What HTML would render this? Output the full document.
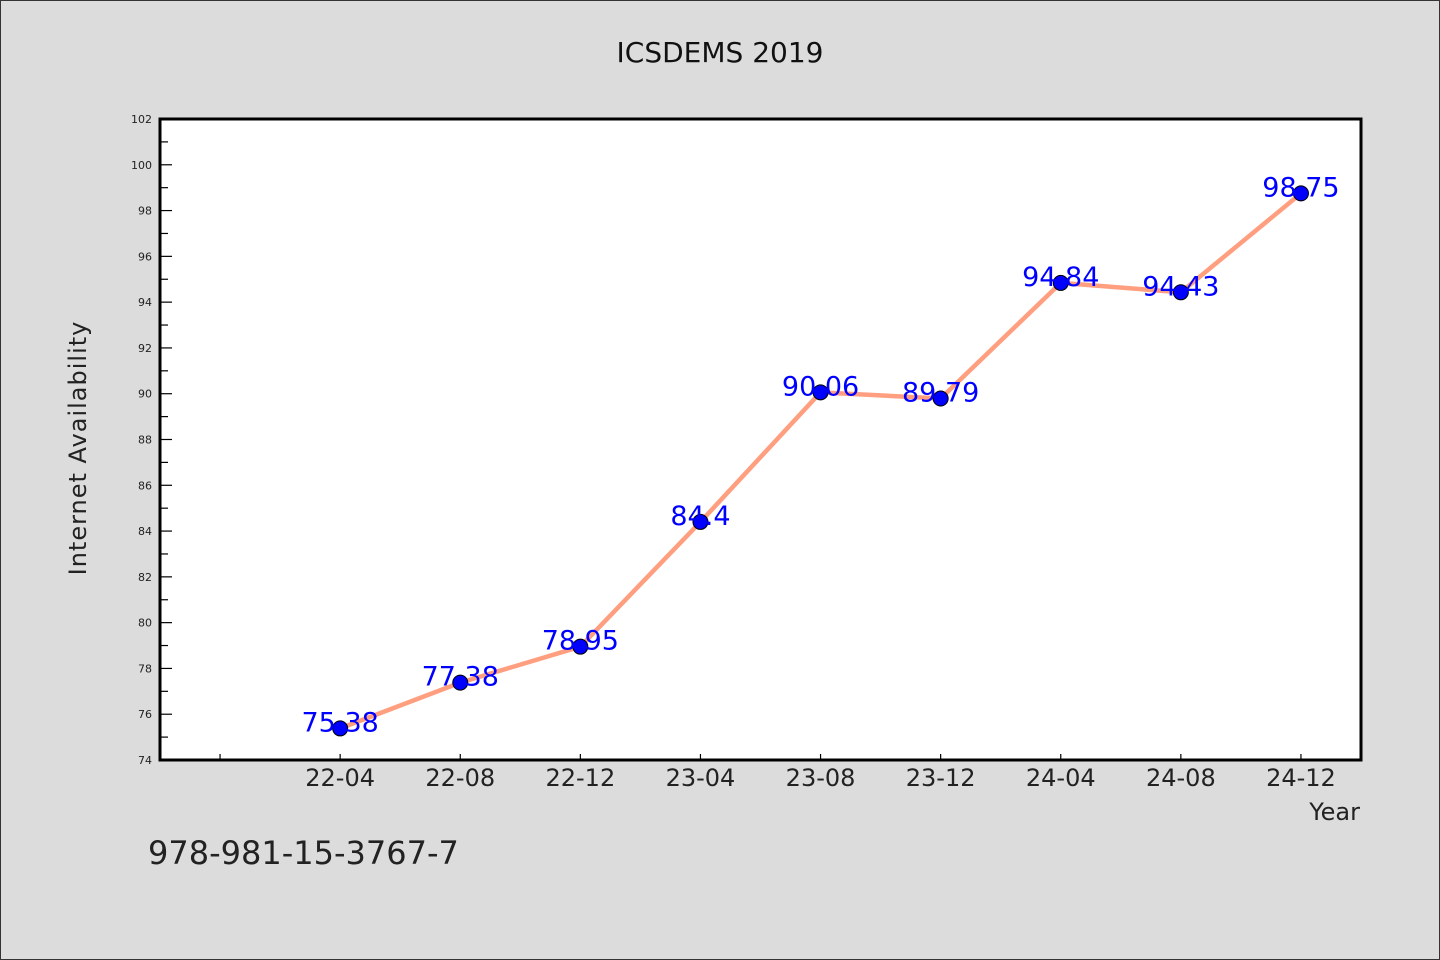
<!DOCTYPE html>
<html><head><meta charset="utf-8"><style>
html,body{margin:0;padding:0;background:#dcdcdc;}
svg{display:block;font-family:"WenQuanYi Zen Hei","DejaVu Sans",sans-serif;}
</style></head><body>
<svg id="c" width="1440" height="960" xmlns="http://www.w3.org/2000/svg">
<rect x="0.5" y="0.5" width="1439" height="959" fill="#dcdcdc" stroke="#333"/>
<text x="720" y="62" font-size="28" text-anchor="middle" fill="#111">ICSDEMS 2019</text>
<rect x="160" y="119" width="1201" height="641" fill="#fff" stroke="#000" stroke-width="3"/>
<text transform="translate(86,448) rotate(-90)" font-size="24" text-anchor="middle" fill="#222" letter-spacing="1">Internet Availability</text>
<text x="1360" y="820" font-size="24" text-anchor="end" fill="#222">Year</text>
<text x="148" y="864" font-size="32" fill="#222">978-981-15-3767-7</text>
<g id="ticks"></g><g id="series"></g><g id="labels"></g>
</svg>
<script>
const categories=["22-04","22-08","22-12","23-04","23-08","23-12","24-04","24-08","24-12"];
const values=[75.38,77.38,78.95,84.4,90.06,89.79,94.84,94.43,98.75];
const valueLabels=["75.38","77.38","78.95","84.4","90.06","89.79","94.84","94.43","98.75"];
const yTicks=[74,76,78,80,82,84,86,88,90,92,94,96,98,100,102];
const yMin=74,yMax=102;
const L=160,R=1361,T=119,B=760;
const NS="http://www.w3.org/2000/svg";
function y(v){return B-(v-yMin)/(yMax-yMin)*(B-T);}
function x(i){return L+(i+1.5)*(R-L)/(categories.length+1);}
function mk(tag,at,parent){const e=document.createElementNS(NS,tag);for(const k in at)e.setAttribute(k,at[k]);parent.appendChild(e);return e;}
const tg=document.getElementById('ticks'),sg=document.getElementById('series'),lg=document.getElementById('labels');
for(let v=yMin;v<=yMax;v++){
  const major=(v%2===0);
  const t=mk('line',{x1:L,x2:L+(major?12:8),y1:y(v),y2:y(v),stroke:'#000','stroke-width':1.2},tg);
  
  
}
yTicks.forEach(v=>{
  const t=mk('text',{x:152,y:y(v)+4,'font-size':11,'text-anchor':'end',fill:'#222'},tg);
  t.textContent=v;
  
  
});
for(let i=-1;i<categories.length;i++){
  const t=mk('line',{x1:x(i),x2:x(i),y1:B,y2:B-6,stroke:'#000','stroke-width':1.2},tg);
  
  
}
categories.forEach((c,i)=>{
  const t=mk('text',{x:x(i),y:786,'font-size':24,'text-anchor':'middle',fill:'#222'},tg);
  t.textContent=c;
  
  
});
const pts=values.map((v,i)=>x(i)+','+y(v)).join(' ');
const pl=mk('polyline',{points:pts,fill:'none',stroke:'#ff9f7f','stroke-width':4.5,'stroke-linejoin':'round'},sg);


values.forEach((v,i)=>{
  const c=mk('circle',{cx:x(i),cy:y(v),r:7.5,fill:'#0000ff',stroke:'#000','stroke-width':1},sg);
  
  
  const t=mk('text',{x:x(i),y:y(v)+3,'font-size':27,'text-anchor':'middle',fill:'#0000ff'},lg);
  t.textContent=valueLabels[i];
  
  
});
</script>
</body></html>
